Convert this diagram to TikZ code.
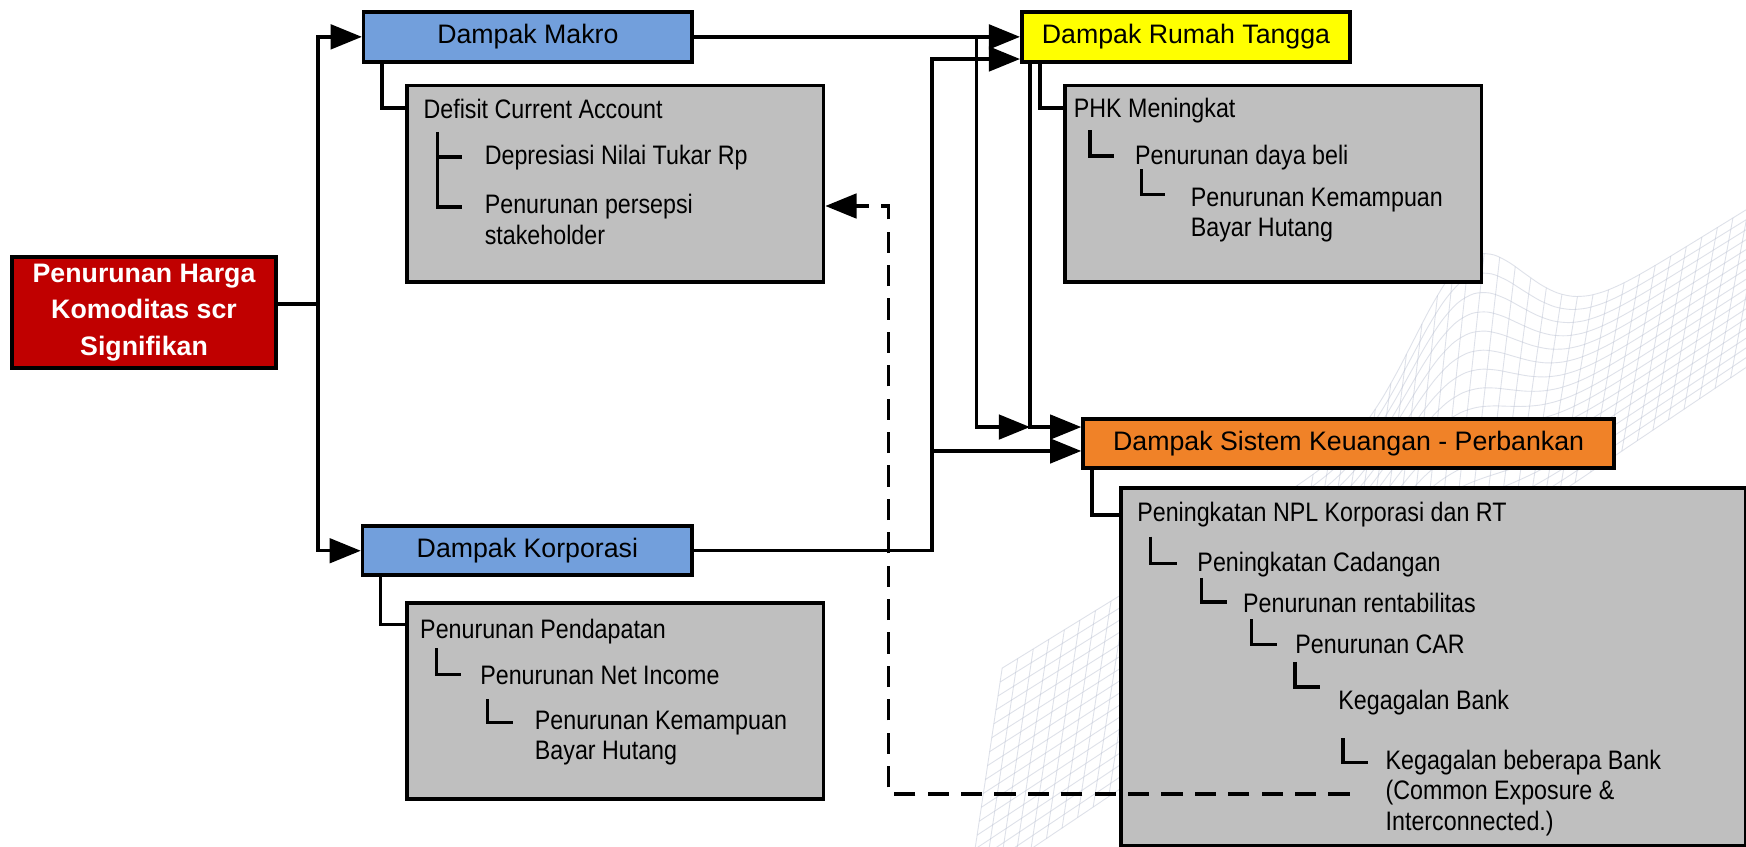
\documentclass[tikz,border=0pt]{standalone}
\usepackage{fontspec}
\setmainfont{Liberation Sans}
\newfontfamily\narrowfont{Liberation Sans}[FakeStretch=0.87]
\usetikzlibrary{arrows.meta,calc}

\definecolor{makroblue}{RGB}{114,159,220}
\definecolor{rtyellow}{RGB}{255,255,0}
\definecolor{skorange}{RGB}{240,130,40}
\definecolor{rootred}{RGB}{192,0,0}
\definecolor{panelgray}{RGB}{191,191,191}
\definecolor{meshline}{RGB}{190,196,212}

\tikzset{
  box/.style={draw=black, line width=1.6pt, inner sep=0pt, anchor=north west},
  headbox/.style={box, font=\fontsize{12}{14}\selectfont},
  panel/.style={box, fill=panelgray},
  item/.style={anchor=base west, inner sep=0pt, font=\narrowfont\fontsize{12}{13.75}\selectfont},
  conn/.style={line width=1.5pt, -{Triangle[length=14pt,width=11pt]}},
  link/.style={line width=1.5pt},
  tree/.style={line width=1.5pt},
  feedback/.style={line width=1.5pt, dash pattern=on 9.5pt off 5.5pt, -{Triangle[length=14pt,width=11pt]}},
  declare function={
    meshx(\u,\v)=870+698*\u+30*\v;
    meshy(\u,\v)=(1-\v)*(800-470*\u)+\v*(600-430*\u)-\v*110*exp(-((\u-0.6)*(\u-0.6))/0.01);
  }
}

\begin{document}
\begin{tikzpicture}[x=0.5pt, y=-0.5pt]
  % canvas
  \fill[white] (0,0) rectangle (1568,760);
  \useasboundingbox (0,0) rectangle (1568,760);

  % faint wire-frame surface in the background
  \begin{scope}
    \clip (0,0) rectangle (1568,760);
    \begin{scope}[draw=meshline, line width=0.4pt, opacity=0.5]
      \foreach \v in {0,0.0625,...,1.01} {
        \draw plot[smooth, domain=0:1, samples=50, variable=\u] ({meshx(\u,\v)},{meshy(\u,\v)});
      }
      \foreach \u in {0,0.02,...,1.001} {
        \draw plot[smooth, domain=0:1, samples=10, variable=\v] ({meshx(\u,\v)},{meshy(\u,\v)});
      }
    \end{scope}
  \end{scope}

  % root cause
  \node[box, fill=rootred, text=white, align=center, minimum width=118.75pt, minimum height=50pt,
        font=\bfseries\fontsize{12}{16.5}\selectfont] (red) at (9,229)
        {Penurunan Harga\\Komoditas scr\\Signifikan};

  % impact headers
  \node[headbox, fill=makroblue, minimum width=147.5pt, minimum height=22.5pt] (makro) at (325,9) {Dampak Makro};
  \node[headbox, fill=makroblue, minimum width=148pt, minimum height=22pt] (korp) at (324,471) {Dampak Korporasi};
  \node[headbox, fill=rtyellow, minimum width=147.5pt, minimum height=22.5pt] (rt) at (916,9) {Dampak Rumah Tangga};
  \node[headbox, fill=skorange, minimum width=238.5pt, minimum height=22pt] (sk) at (971,374.5) {Dampak Sistem Keuangan - Perbankan};

  % detail panels
  \node[panel, minimum width=187pt, minimum height=88.25pt] (gm) at (364,75) {};
  \node[panel, minimum width=187pt, minimum height=88pt] (gk) at (364,540) {};
  \node[panel, minimum width=187pt, minimum height=88.25pt] (grt) at (955,75) {};
  \node[panel, minimum width=280.5pt, minimum height=160.75pt] (gsk) at (1005,436.5) {};

  % macro panel
  \node[item] (gm1) at (380,106) {Defisit Current Account};
  \node[item] (gm2) at (435,148) {Depresiasi Nilai Tukar Rp};
  \node[item] (gm3) at (435,192) {\begin{tabular}[t]{@{}l@{}}Penurunan persepsi\\stakeholder\end{tabular}};
  \draw[tree] (393,118.5) -- (393,186) -- (415,186);
  \draw[tree] (393,141) -- (415,141);

  % corporate panel
  \node[item] (gk1) at (377,573) {Penurunan Pendapatan};
  \node[item] (gk2) at (431,615) {Penurunan Net Income};
  \node[item] (gk3) at (480,655) {\begin{tabular}[t]{@{}l@{}}Penurunan Kemampuan\\Bayar Hutang\end{tabular}};
  \draw[tree] (392,582) -- (392,606) -- (414,606);
  \draw[tree] (438,628) -- (438,649) -- (461,649);

  % household panel
  \node[item] (grt1) at (964,105.5) {PHK Meningkat};
  \node[item] (grt2) at (1019,147.6) {Penurunan daya beli};
  \node[item] (grt3) at (1069,185) {\begin{tabular}[t]{@{}l@{}}Penurunan Kemampuan\\Bayar Hutang\end{tabular}};
  \draw[tree] (979,117) -- (979,140) -- (1000,140);
  \draw[tree] (1025,152) -- (1025,174.5) -- (1046,174.5);

  % banking panel
  \node[item] (gsk1) at (1021,468.6) {Peningkatan NPL Korporasi dan RT};
  \node[item] (gsk2) at (1075,513.5) {Peningkatan Cadangan};
  \node[item] (gsk3) at (1116,550) {Penurunan rentabilitas};
  \node[item] (gsk4) at (1163,586.6) {Penurunan CAR};
  \node[item] (gsk5) at (1201.6,637.6) {Kegagalan Bank};
  \node[item] (gsk6) at (1244,690.8) {\begin{tabular}[t]{@{}l@{}}Kegagalan beberapa Bank\\(Common Exposure \&\\Interconnected.)\end{tabular}};
  \draw[tree] (1033,482) -- (1033,506) -- (1057,506);
  \draw[tree] (1079,519) -- (1079,540.5) -- (1102,540.5);
  \draw[tree] (1124,556) -- (1124,579) -- (1147,579);
  \draw[tree] (1163,594.5) -- (1163,617) -- (1185,617);
  \draw[tree] (1206,663) -- (1206,685) -- (1228.6,685);

  % header-to-panel links
  \coordinate (mk) at (343,97);
  \coordinate (kk) at (342,561);
  \coordinate (rk) at (934,97);
  \coordinate (sk2) at (980.7,462.5);
  \draw[link] (makro.south -| mk) -- (mk) -- (gm.west |- mk);
  \draw[link] (korp.south -| kk) -- (kk) -- (gk.west |- kk);
  \draw[link] (rt.south -| rk) -- (rk) -- (grt.west |- rk);
  \draw[link] (sk.south -| sk2) -- (sk2) -- (gsk.west |- sk2);

  % root to impacts
  \coordinate (trunk) at (285.5,273);
  \draw[link] (red.east |- trunk) -- (trunk);
  \draw[conn] (trunk) |- (makro.west);
  \draw[conn] (trunk) |- (korp.west);

  % macro impacts
  \draw[conn] (makro.east) -- (rt.west);
  \coordinate (mj) at (877,31.5);
  \coordinate (mb) at (877,383.5);
  \coordinate (rj) at (925,383.5);
  \draw[conn] (mj) -- (mb) -- (rj);

  % household to banking
  \draw[conn] (rt.south -| rj) -- (rj) -- (sk.west |- rj);

  % corporate impacts
  \coordinate (kv) at (837,53);
  \coordinate (kb) at (837,405);
  \draw[conn] (korp.east) -| (kv) -- (rt.west |- kv);
  \draw[conn] (kb) -- (sk.west |- kb);

  % feedback from bank failures to the macro panel
  \coordinate (fbstart) at (1212,713);
  \coordinate (fbtop) at (798,185);
  \draw[feedback] (fbstart) -| (fbtop) -- (gm.east |- fbtop);
\end{tikzpicture}
\end{document}
